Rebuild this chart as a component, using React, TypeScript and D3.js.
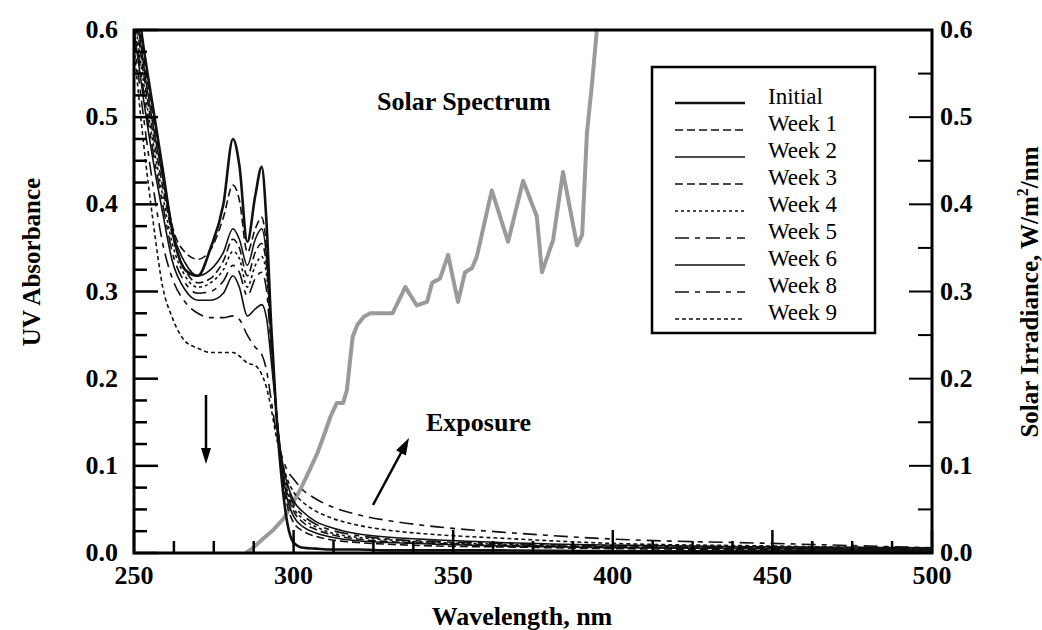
import React from 'react';
import * as d3 from 'd3';

// ---- Data ----
const wavelengths = [250, 253, 256, 259, 262, 266, 270, 274, 278, 281, 283, 285.5, 288, 290, 291.5, 293, 294.5, 296, 298, 300, 303, 307, 312, 320, 330, 345, 365, 400, 450, 500];

const initial = [0.66, 0.58, 0.51, 0.44, 0.37, 0.325, 0.318, 0.35, 0.4, 0.475, 0.445, 0.357, 0.41, 0.443, 0.38, 0.26, 0.165, 0.095, 0.035, 0.012, 0.006, 0.005, 0.004, 0.004, 0.003, 0.003, 0.003, 0.002, 0.002, 0.002];
const week1 = [0.65, 0.57, 0.5, 0.435, 0.375, 0.345, 0.337, 0.348, 0.385, 0.422, 0.405, 0.345, 0.372, 0.385, 0.35, 0.255, 0.165, 0.1, 0.055, 0.035, 0.025, 0.019, 0.015, 0.012, 0.01, 0.008, 0.007, 0.005, 0.004, 0.003];
const week2 = [0.64, 0.56, 0.49, 0.43, 0.37, 0.333, 0.318, 0.325, 0.345, 0.372, 0.36, 0.33, 0.36, 0.372, 0.34, 0.25, 0.165, 0.105, 0.062, 0.042, 0.03, 0.023, 0.018, 0.014, 0.012, 0.01, 0.008, 0.006, 0.005, 0.004];
const week3 = [0.63, 0.55, 0.48, 0.42, 0.365, 0.325, 0.31, 0.315, 0.335, 0.36, 0.35, 0.318, 0.345, 0.355, 0.33, 0.245, 0.165, 0.108, 0.068, 0.048, 0.035, 0.027, 0.021, 0.016, 0.013, 0.011, 0.009, 0.007, 0.005, 0.004];
const week4 = [0.62, 0.54, 0.47, 0.41, 0.355, 0.318, 0.305, 0.31, 0.325, 0.346, 0.338, 0.305, 0.33, 0.34, 0.32, 0.24, 0.165, 0.11, 0.072, 0.052, 0.039, 0.03, 0.023, 0.018, 0.015, 0.012, 0.01, 0.007, 0.006, 0.005];
const week5 = [0.61, 0.53, 0.46, 0.4, 0.345, 0.31, 0.298, 0.3, 0.312, 0.33, 0.322, 0.295, 0.315, 0.322, 0.302, 0.235, 0.165, 0.112, 0.076, 0.056, 0.043, 0.033, 0.026, 0.02, 0.016, 0.013, 0.011, 0.008, 0.006, 0.005];
const week6 = [0.6, 0.52, 0.45, 0.39, 0.335, 0.302, 0.29, 0.29, 0.298, 0.318, 0.305, 0.272, 0.28, 0.285, 0.27, 0.22, 0.165, 0.115, 0.08, 0.06, 0.047, 0.036, 0.029, 0.022, 0.018, 0.015, 0.012, 0.009, 0.007, 0.006];
const week8 = [0.59, 0.5, 0.42, 0.355, 0.315, 0.288, 0.275, 0.27, 0.27, 0.272, 0.268, 0.25, 0.236, 0.228, 0.21, 0.175, 0.14, 0.115, 0.095, 0.085, 0.072, 0.062, 0.053, 0.044, 0.037, 0.03, 0.024, 0.016, 0.011, 0.006];
const week9 = [0.58, 0.47, 0.38, 0.305, 0.27, 0.243, 0.235, 0.23, 0.23, 0.23, 0.226, 0.218, 0.215, 0.205, 0.19, 0.165, 0.135, 0.11, 0.085, 0.07, 0.058, 0.048, 0.04, 0.032, 0.026, 0.021, 0.017, 0.011, 0.008, 0.005];

const seriesNames = ['Initial', 'Week 1', 'Week 2', 'Week 3', 'Week 4', 'Week 5', 'Week 6', 'Week 8', 'Week 9'];
const seriesValues = [initial, week1, week2, week3, week4, week5, week6, week8, week9];

const solarNm = [285, 287, 290, 293.5, 297, 302, 305, 307.5, 310, 311.5, 313.5, 315.5, 316.7, 318.5, 320, 322, 324, 331, 335, 338.6, 341.8, 343.4, 345.9, 348.4, 351.5, 353.7, 355.9, 357.4, 362.1, 367.2, 371.9, 376.2, 377.8, 381.3, 384.4, 388.8, 390.4, 391.9, 393.5, 395, 396];
const solarIrr = [0, 0.005, 0.015, 0.026, 0.04, 0.072, 0.095, 0.115, 0.14, 0.156, 0.172, 0.172, 0.187, 0.248, 0.262, 0.271, 0.275, 0.275, 0.305, 0.284, 0.288, 0.31, 0.315, 0.342, 0.288, 0.322, 0.327, 0.34, 0.416, 0.357, 0.427, 0.386, 0.322, 0.359, 0.437, 0.353, 0.365, 0.482, 0.539, 0.6, 0.65];

const xTicks = [250, 300, 350, 400, 450, 500];
const yTicks = [0, 0.1, 0.2, 0.3, 0.4, 0.5, 0.6];

// ---- Styles ----
const lineStyles = [
  { dash: 'none', width: 2.6 },
  { dash: '8,4', width: 1.6 },
  { dash: 'none', width: 1.6 },
  { dash: '8,4', width: 1.6 },
  { dash: '3,3', width: 1.6 },
  { dash: '14,6,5,6', width: 1.6 },
  { dash: 'none', width: 1.6 },
  { dash: '14,6,5,6', width: 1.6 },
  { dash: '4,3', width: 1.6 },
];

const L = 134, R = 932, T = 30, B = 553;
const FONT = '"Liberation Serif", "Times New Roman", serif';

function arrowHead(x1: number, y1: number, x2: number, y2: number, len: number, half: number) {
  const dx = x2 - x1, dy = y2 - y1;
  const d = Math.hypot(dx, dy);
  const ux = dx / d, uy = dy / d;
  const bx = x2 - ux * len, by = y2 - uy * len;
  const px = -uy, py = ux;
  return `M${x2},${y2}L${bx + px * half},${by + py * half}L${bx - px * half},${by - py * half}Z`;
}

export default function App() {
  const x = d3.scaleLinear().domain([250, 500]).range([L, R]);
  const y = d3.scaleLinear().domain([0, 0.6]).range([B, T]);
  const y2 = d3.scaleLinear().domain([0, 0.6]).range([B, T]);

  const absLine = d3.line<number>()
    .x((_, i) => x(wavelengths[i]))
    .y((d) => y(d))
    .curve(d3.curveMonotoneX);

  const solarLine = d3.line<number>()
    .x((_, i) => x(solarNm[i]))
    .y((d) => y2(d))
    .curve(d3.curveLinear);

  const xMinor = d3.range(250, 500.01, 12.5);
  const yMinorLeft = d3.range(0, 0.6001, 0.025);
  const yMinorRight = d3.range(0, 0.6001, 0.05);

  const isMajor = (v: number, step: number) => Math.abs(v / step - Math.round(v / step)) < 1e-6;

  const legendX = 652, legendY = 67, legendW = 223, legendH = 266;

  return (
    <svg width={1042} height={630} style={{ position: 'absolute', left: 0, top: 0, background: '#fff' }} fontFamily={FONT}>
      <defs>
        <clipPath id="plot">
          <rect x={L} y={T} width={R - L} height={B - T} />
        </clipPath>
      </defs>
      <rect x={0} y={0} width={1042} height={630} fill="#fff" />

      {/* Solar spectrum */}
      <g clipPath="url(#plot)">
        <path d={solarLine(solarIrr) || ''} fill="none" stroke="#9a9a9a" strokeWidth={4} strokeLinejoin="round" />
      </g>

      {/* Absorbance curves */}
      <g clipPath="url(#plot)">
        {seriesValues.map((vals, i) => (
          <path key={seriesNames[i]} d={absLine(vals) || ''} fill="none" stroke="#111"
            strokeWidth={lineStyles[i].width}
            strokeDasharray={lineStyles[i].dash === 'none' ? undefined : lineStyles[i].dash} />
        ))}
      </g>

      {/* Ticks: bottom */}
      {xMinor.map((v) => (
        <line key={'xt' + v} x1={x(v)} x2={x(v)} y1={B} y2={B - (isMajor(v - 250, 50) ? 23 : 12)} stroke="#000" strokeWidth={2.5} />
      ))}
      {/* Ticks: left */}
      {yMinorLeft.map((v) => (
        <line key={'yl' + v} x1={L} x2={L + (isMajor(v, 0.1) ? 24 : 13)} y1={y(v)} y2={y(v)} stroke="#000" strokeWidth={2.5} />
      ))}
      {/* Ticks: right */}
      {yMinorRight.map((v) => (
        <line key={'yr' + v} x1={R} x2={R - (isMajor(v, 0.1) ? 23 : 14)} y1={y2(v)} y2={y2(v)} stroke="#000" strokeWidth={2} />
      ))}

      {/* Frame */}
      <rect x={L} y={T} width={R - L} height={B - T} fill="none" stroke="#000" strokeWidth={3} />

      {/* Tick labels */}
      {xTicks.map((v) => (
        <text key={'xl' + v} x={x(v)} y={584} textAnchor="middle" fontWeight="bold" fontSize={26}>{v}</text>
      ))}
      {yTicks.map((v) => (
        <text key={'yll' + v} x={118} y={y(v) + 8} textAnchor="end" fontWeight="bold" fontSize={26}>{v.toFixed(1)}</text>
      ))}
      {yTicks.map((v) => (
        <text key={'yrl' + v} x={940} y={y2(v) + 8} textAnchor="start" fontWeight="bold" fontSize={26}>{v.toFixed(1)}</text>
      ))}

      {/* Axis titles */}
      <text x={522} y={625} textAnchor="middle" fontWeight="bold" fontSize={26}>Wavelength, nm</text>
      <text transform="translate(40,262) rotate(-90)" textAnchor="middle" fontWeight="bold" fontSize={25}>UV Absorbance</text>
      <text transform="translate(1038,292) rotate(-90)" textAnchor="middle" fontWeight="bold" fontSize={25}>
        Solar Irradiance, W/m<tspan dy={-10} fontSize={16}>2</tspan><tspan dy={10}>/nm</tspan>
      </text>

      {/* Annotations */}
      <text x={377} y={110} fontWeight="bold" fontSize={26}>Solar Spectrum</text>
      <text x={426} y={431} fontWeight="bold" fontSize={26}>Exposure</text>

      {/* Down arrow */}
      <line x1={206} y1={395} x2={206} y2={450} stroke="#000" strokeWidth={2.5} />
      <path d={arrowHead(206, 395, 206, 464, 16, 5)} fill="#000" />
      {/* Exposure arrow */}
      <line x1={373} y1={505} x2={402} y2={451} stroke="#000" strokeWidth={2.5} />
      <path d={arrowHead(373, 505, 409, 438, 17, 5.5)} fill="#000" />

      {/* Legend */}
      <rect x={legendX} y={legendY} width={legendW} height={legendH} fill="#fff" stroke="#000" strokeWidth={2.5} />
      {seriesNames.map((name, i) => (
        <g key={'lg' + name}>
          <line x1={675} x2={745} y1={103 + i * 27} y2={103 + i * 27} stroke="#111"
            strokeWidth={lineStyles[i].width}
            strokeDasharray={lineStyles[i].dash === 'none' ? undefined : lineStyles[i].dash} />
          <text x={768} y={104 + i * 27} fontSize={23}>{name}</text>
        </g>
      ))}
    </svg>
  );
}
